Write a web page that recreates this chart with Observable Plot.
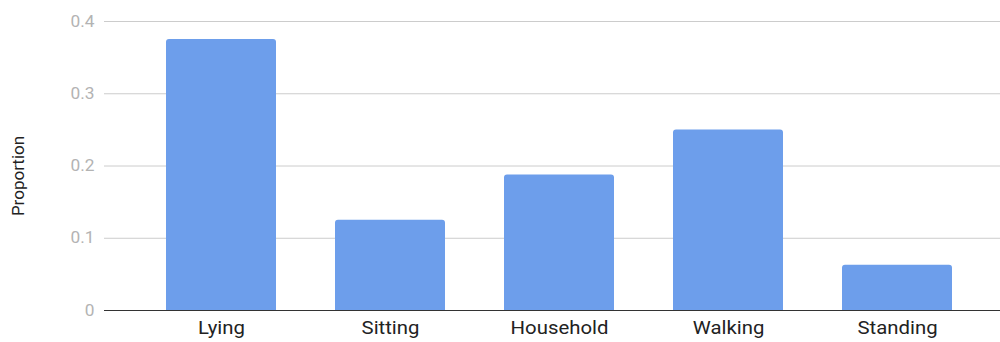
<!DOCTYPE html>
<html>
<head>
<meta charset="utf-8">
<script src="https://cdn.jsdelivr.net/npm/d3@7"></script>
<script src="https://cdn.jsdelivr.net/npm/@observablehq/plot@0.6"></script>
<style>
  html, body { margin: 0; padding: 0; background: #fff; }
  #chart svg { display: block; font-family: Roboto, "Noto Sans", sans-serif; }
</style>
</head>
<body>
<div id="chart"></div>
<script>
// Share of time spent in each activity
const activities = ["Lying", "Sitting", "Household", "Walking", "Standing"];
const proportions = [0.375, 0.125, 0.1875, 0.25, 0.0625];
const yTicks = [0, 0.1, 0.2, 0.3, 0.4];
const yLabel = "Proportion";

const rows = activities.map((activity, i) => ({activity, proportion: proportions[i]}));

const chart = Plot.plot({
  width: 1000,
  height: 342,
  marginTop: 21,
  marginBottom: 32,
  marginLeft: 104,
  marginRight: 0,
  style: {fontFamily: "Roboto, 'Noto Sans', sans-serif", background: "#fff"},
  x: {domain: activities, paddingInner: 0.35, paddingOuter: 0.318, align: 0.56},
  y: {domain: [0, 0.4]},
  marks: [
    Plot.gridY(yTicks, {stroke: "#cccccc", strokeOpacity: 1, strokeWidth: 1}),
    Plot.barY(rows, {x: "activity", y: "proportion", fill: "#6d9eeb", ry1: 3, rx1y1: 3, rx2y1: 3}),
    Plot.ruleY([0], {stroke: "#333333", strokeWidth: 1.2}),
    Plot.axisY(yTicks, {
      tickSize: 0,
      tickPadding: 10,
      fontSize: 16,
      fill: "#b3b3b3",
      tickFormat: d => d === 0 ? "0" : d.toFixed(1),
      label: yLabel,
      labelAnchor: "center",
      labelArrow: "none",
      labelOffset: 93
    }),
    Plot.axisX({
      tickSize: 0,
      tickPadding: 11,
      fontSize: 18,
      fill: "#222222",
      label: null
    })
  ]
});

document.getElementById("chart").appendChild(chart);

// Slightly wider lettering for the tick labels
function widen(selector, k) {
  chart.querySelectorAll(selector).forEach(t => {
    const w = t.getComputedTextLength();
    t.setAttribute("textLength", (w * k).toFixed(1));
    t.setAttribute("lengthAdjust", "spacingAndGlyphs");
  });
}
widen("[aria-label='x-axis tick label'] text", 1.13);
widen("[aria-label='y-axis tick label'] text", 1.08);

// Axis title: darker, larger, sitting a little below the frame's middle
chart.querySelectorAll("[aria-label='y-axis label'] text").forEach(t => {
  t.setAttribute("fill", "#222222");
  t.style.fontSize = "17px";
  t.setAttribute("transform", "translate(0,10) " + (t.getAttribute("transform") || ""));
});
</script>
</body>
</html>
